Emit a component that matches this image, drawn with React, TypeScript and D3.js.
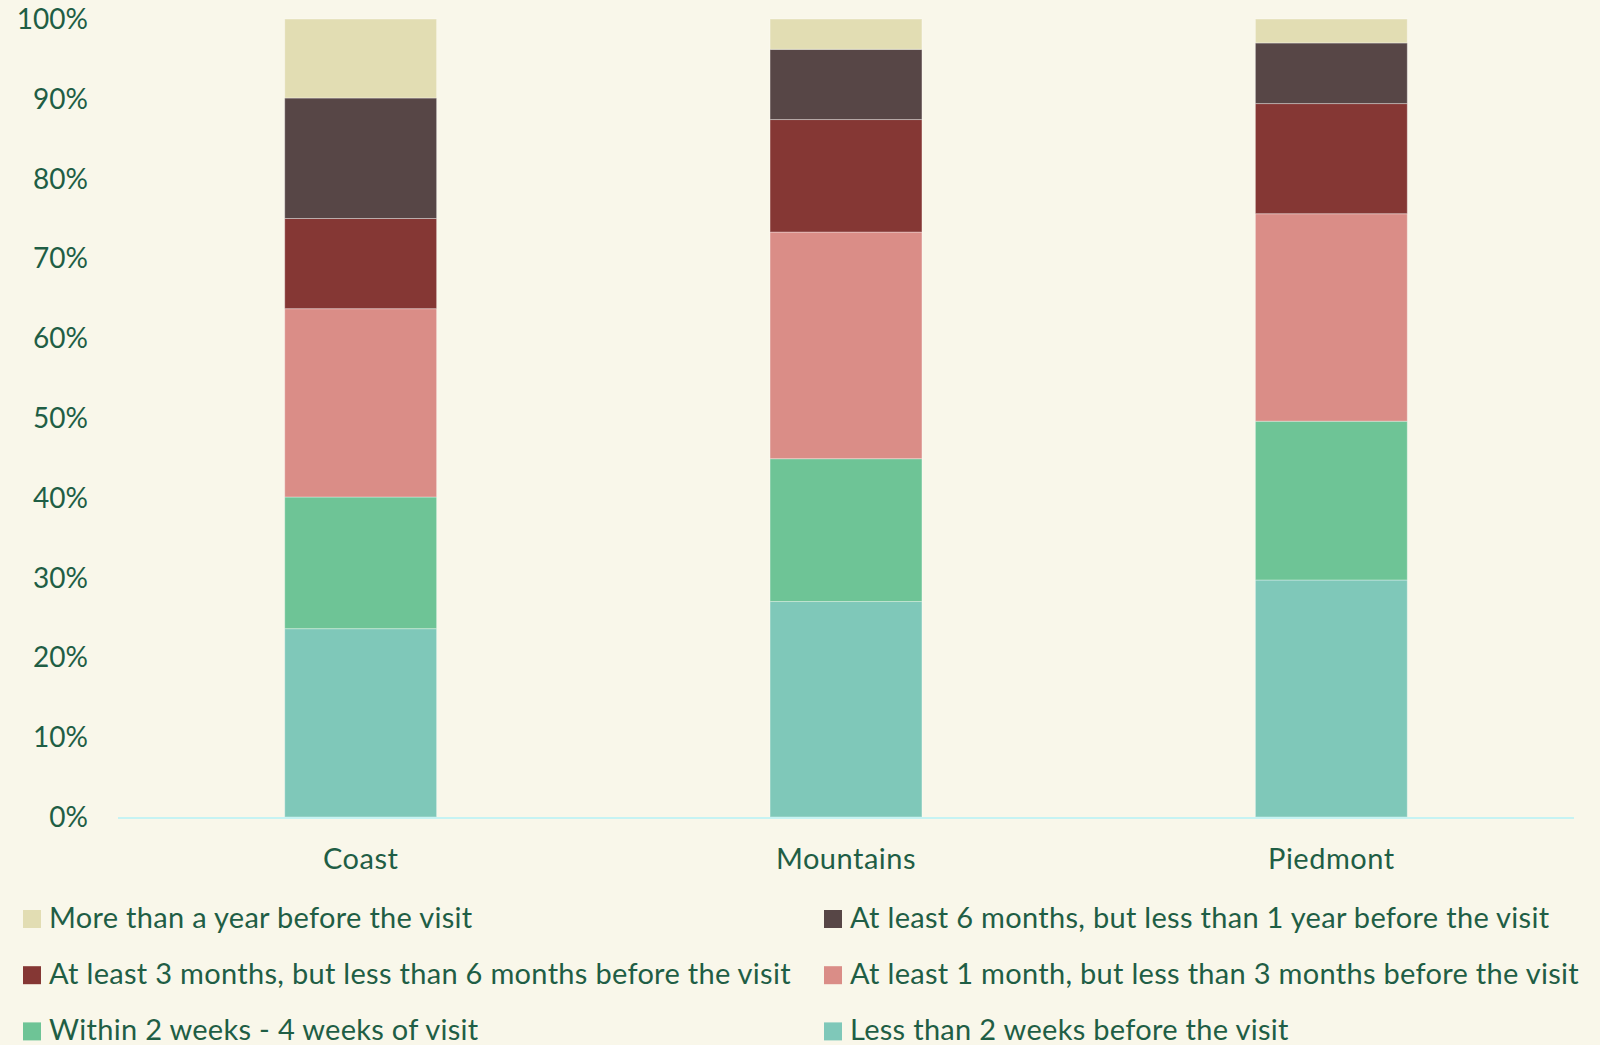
import React from "react";
import * as d3 from "d3";

const categories = ["Coast", "Mountains", "Piedmont"];

const seriesNames = [
  "Less than 2 weeks before the visit",
  "Within 2 weeks - 4 weeks of visit",
  "At least 1 month, but less than 3 months before the visit",
  "At least 3 months, but less than 6 months before the visit",
  "At least 6 months, but less than 1 year before the visit",
  "More than a year before the visit",
];

const lessThan2Weeks = [23.6, 27.0, 29.7];
const within2to4Weeks = [16.5, 17.9, 19.9];
const oneTo3Months = [23.6, 28.4, 26.0];
const threeTo6Months = [11.3, 14.1, 13.8];
const sixMonthsTo1Year = [15.1, 8.8, 7.6];
const moreThanAYear = [9.9, 3.8, 3.0];

const seriesValues = [
  lessThan2Weeks,
  within2to4Weeks,
  oneTo3Months,
  threeTo6Months,
  sixMonthsTo1Year,
  moreThanAYear,
];

const seriesColors = ["#7fc8b9", "#6ec496", "#da8d87", "#853734", "#574646", "#e2ddb3"];

const yTicks = [0, 10, 20, 30, 40, 50, 60, 70, 80, 90, 100];

// legend order: rows of two (left, right)
const legendOrder = [5, 4, 3, 2, 1, 0];

const W = 1600;
const H = 1045;
const BG = "#f9f7ea";
const TEXT = "#1f5e45";
const FONT = "Lato, 'Open Sans', sans-serif";

export default function App() {
  React.useEffect(() => {
    document.body.style.margin = "0";
    document.body.style.background = BG;
  }, []);

  const x = d3.scaleBand().domain(categories).range([118, 1574]).paddingInner(0.687).paddingOuter(0.3435);
  const y = d3.scaleLinear().domain([0, 100]).range([817, 19]);

  const rows = categories.map((c, i) => {
    const r: Record<string, number | string> = { category: c };
    seriesNames.forEach((s, k) => (r[s] = seriesValues[k][i]));
    return r;
  });
  const stacked = d3.stack<any>().keys(seriesNames)(rows);

  return (
    <svg width={W} height={H} style={{ position: "absolute", left: 0, top: 0, display: "block" }}>
      <rect x={0} y={0} width={W} height={H} fill={BG} />
      {stacked.map((layer, k) => (
        <g key={layer.key}>
          {layer.map((d, i) => (
            <rect
              key={i}
              x={x(categories[i])}
              width={x.bandwidth()}
              y={y(d[1])}
              height={y(d[0]) - y(d[1])}
              fill={seriesColors[k]}
              stroke="rgba(255,255,255,0.35)"
              strokeWidth={1}
            />
          ))}
        </g>
      ))}
      <line x1={118} x2={1574} y1={y(0) + 1} y2={y(0) + 1} stroke="#c6f3f3" strokeWidth={2} />
      {yTicks.map((t) => (
        <text
          key={t}
          x={88}
          y={y(t)}
          dy="0.36em"
          textAnchor="end"
          fontFamily={FONT}
          fontSize={28}
          fill={TEXT}
        >
          {`${t}%`}
        </text>
      ))}
      {categories.map((c) => (
        <text
          key={c}
          x={(x(c) as number) + x.bandwidth() / 2}
          y={869}
          textAnchor="middle"
          fontFamily={FONT}
          fontSize={29}
          letterSpacing={0.5}
          fill={TEXT}
        >
          {c}
        </text>
      ))}
      {legendOrder.map((k, j) => {
        const col = j % 2;
        const row = Math.floor(j / 2);
        const lx = col === 0 ? 23 : 824;
        const ly = 910 + row * 56.2;
        return (
          <g key={k}>
            <rect x={lx} y={ly} width={18} height={18} fill={seriesColors[k]} />
            <text
              x={lx + 26}
              y={ly + 17.7}
              fontFamily={FONT}
              fontSize={29}
              letterSpacing={0.3}
              fill={TEXT}
            >
              {seriesNames[k]}
            </text>
          </g>
        );
      })}
    </svg>
  );
}
